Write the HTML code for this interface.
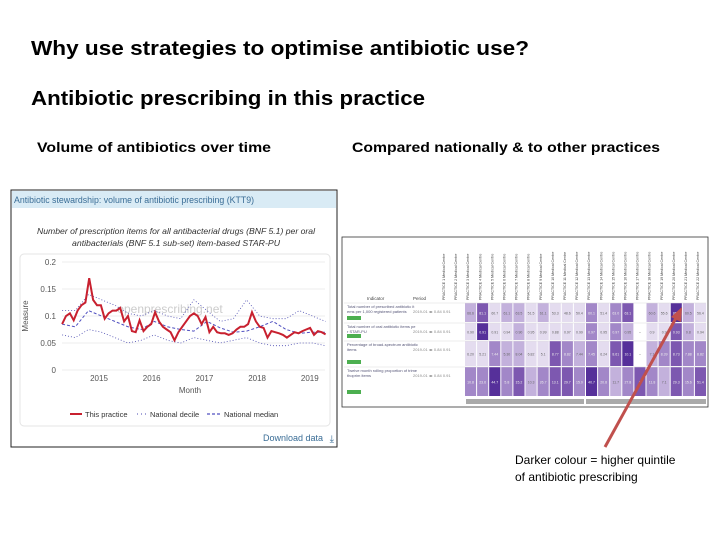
<!DOCTYPE html>
<html><head><meta charset="utf-8"><style>
body{margin:0;background:#fff;}
svg{display:block;font-family:"Liberation Sans",sans-serif;}
</style></head><body>
<svg id="s" width="720" height="540" viewBox="0 0 720 540">
<text x="31" y="55" font-size="20" font-weight="bold" textLength="498" lengthAdjust="spacingAndGlyphs" fill="#000">Why use strategies to optimise antibiotic use?</text>
<text x="31" y="105" font-size="20" font-weight="bold" textLength="394" lengthAdjust="spacingAndGlyphs" fill="#000">Antibiotic prescribing in this practice</text>
<text x="37" y="152" font-size="14" font-weight="bold" textLength="234" lengthAdjust="spacingAndGlyphs">Volume of antibiotics over time</text>
<text x="352" y="152" font-size="14" font-weight="bold" textLength="308" lengthAdjust="spacingAndGlyphs">Compared nationally &amp; to other practices</text>

<g>
<rect x="11" y="190" width="326" height="257" fill="#fff" stroke="#222" stroke-width="1"/>
<rect x="12" y="191" width="324" height="17" fill="#d9ebf5"/>
<text x="14" y="203" font-size="9" fill="#3a6d96" textLength="240" lengthAdjust="spacingAndGlyphs">Antibiotic stewardship: volume of antibiotic prescribing (KTT9)</text>
<text x="176" y="234" font-size="8.5" font-style="italic" text-anchor="middle" fill="#333" textLength="278" lengthAdjust="spacingAndGlyphs">Number of prescription items for all antibacterial drugs (BNF 5.1) per oral</text>
<text x="176" y="246" font-size="8.5" font-style="italic" text-anchor="middle" fill="#333" textLength="208" lengthAdjust="spacingAndGlyphs">antibacterials (BNF 5.1 sub-set) item-based STAR-PU</text>
<rect x="20" y="254" width="310" height="172" rx="4" fill="none" stroke="#e4e4e4"/>
<g id="plot"></g>
<text x="323" y="441" font-size="9" fill="#3a6d96" text-anchor="end">Download data</text>
<text x="334" y="442" font-size="10" fill="#3a6d96" text-anchor="end">⤓</text>
</g>

<g>
<rect x="342" y="237" width="366" height="170" fill="#fff" stroke="#333" stroke-width="0.8"/>
<g id="heat"></g>
</g>

<line x1="605" y1="447" x2="676" y2="318" stroke="#c0504d" stroke-width="3"/>
<polygon points="682,307 671,317 681,322" fill="#c0504d"/>
<text x="515" y="464" font-size="12">Darker colour = higher quintile</text>
<text x="515" y="481" font-size="12">of antibiotic prescribing</text>
</svg>
<script>
const NS="http://www.w3.org/2000/svg";
const yTicks=[0,0.05,0.1,0.15,0.2];
const yTickLabels=["0","0.05","0.1","0.15","0.2"];
const xYears=[2015,2016,2017,2018,2019];
const practiceStart=2014.3;
const practice=[0.085,0.1,0.105,0.092,0.11,0.12,0.125,0.17,0.13,0.12,0.12,0.095,0.105,0.11,0.11,0.115,0.09,0.1,0.072,0.07,0.092,0.072,0.08,0.085,0.107,0.09,0.08,0.075,0.07,0.055,0.07,0.08,0.09,0.1,0.105,0.1,0.085,0.098,0.07,0.08,0.07,0.068,0.068,0.065,0.068,0.075,0.08,0.08,0.085,0.107,0.09,0.08,0.078,0.06,0.072,0.07,0.068,0.065,0.06,0.065,0.07,0.068,0.072,0.075,0.078,0.065,0.072,0.07,0.066];
const qStart=2014.3;
const median=[0.085,0.08,0.11,0.1,0.09,0.08,0.075,0.09,0.08,0.075,0.072,0.09,0.078,0.07,0.072,0.08,0.09,0.075,0.068,0.07,0.07];
const decileHigh=[0.11,0.11,0.14,0.13,0.12,0.105,0.1,0.11,0.1,0.095,0.13,0.11,0.09,0.095,0.13,0.1,0.095,0.095,0.11,0.1,0.09];
const decileLow=[0.065,0.06,0.075,0.07,0.06,0.05,0.055,0.065,0.055,0.05,0.06,0.055,0.05,0.055,0.06,0.05,0.045,0.045,0.05,0.05,0.045];

const X0=62,X1=325,Y0=370,Y1=262;
const xs=t=>99+(t-2015)*52.7;
const ys=v=>Y0-(v/0.2)*(Y0-Y1);
function mk(tag,attrs,parent){const e=document.createElementNS(NS,tag);for(const k in attrs)e.setAttribute(k,attrs[k]);parent.appendChild(e);return e;}
const plot=document.getElementById('plot');
yTicks.forEach((v,i)=>{
 const g=mk('line',{x1:X0,x2:X1,y1:ys(v),y2:ys(v),stroke:'#e6e6e6','stroke-width':0.8},plot);
 
 
 const t=mk('text',{x:X0-6,y:ys(v)+3,'font-size':8,'text-anchor':'end',fill:'#555'},plot);
 t.textContent=yTickLabels[i];
 
 
});
xYears.forEach(yr=>{
 const t=mk('text',{x:xs(yr),y:Y0+11,'font-size':8,'text-anchor':'middle',fill:'#555'},plot);
 t.textContent=yr;
 
 
});
let t=mk('text',{x:190,y:393,'font-size':8,'text-anchor':'middle',fill:'#555'},plot);t.textContent='Month';


t=mk('text',{x:28,y:316,'font-size':8,'text-anchor':'middle',fill:'#555',transform:'rotate(-90 28 316)'},plot);t.textContent='Measure';


t=mk('text',{x:170,y:313,'font-size':12,'text-anchor':'middle',fill:'#ccc'},plot);t.textContent='openprescribing.net';


function pts(arr,start,step){return arr.map((v,i)=>xs(start+i*step).toFixed(1)+','+ys(v).toFixed(1)).join(' ');}
const qstep=(2019.3-qStart)/(median.length-1);
let l=mk('polyline',{points:pts(decileHigh,qStart,qstep),fill:'none',stroke:'#4a4ab0','stroke-width':0.8,'stroke-dasharray':'1 2'},plot);


l=mk('polyline',{points:pts(decileLow,qStart,qstep),fill:'none',stroke:'#4a4ab0','stroke-width':0.8,'stroke-dasharray':'1 2'},plot);


l=mk('polyline',{points:pts(median,qStart,qstep),fill:'none',stroke:'#5050c0','stroke-width':1,'stroke-dasharray':'3 2'},plot);


const pstep=(2019.3-practiceStart)/(practice.length-1);
l=mk('polyline',{points:pts(practice,practiceStart,pstep),fill:'none',stroke:'#c8202f','stroke-width':2},plot);


l=mk('line',{x1:70,x2:82,y1:414,y2:414,stroke:'#c8202f','stroke-width':2},plot);


t=mk('text',{x:85,y:417,'font-size':7.5,fill:'#333'},plot);t.textContent='This practice';


l=mk('line',{x1:137,x2:146,y1:414,y2:414,stroke:'#4a4ab0','stroke-width':1,'stroke-dasharray':'1 3'},plot);


t=mk('text',{x:150,y:417,'font-size':7.5,fill:'#333'},plot);t.textContent='National decile';


l=mk('line',{x1:207,x2:220,y1:414,y2:414,stroke:'#5050c0','stroke-width':1.2,'stroke-dasharray':'3 2'},plot);


t=mk('text',{x:224,y:417,'font-size':7.5,fill:'#333'},plot);t.textContent='National median';



const rowLevels=[
 [2,4,1,2,2,1,2,1,1,1,3,1,3,4,0,2,1,5,2,1],
 [1,5,1,1,2,1,1,1,1,1,3,1,3,2,0,1,1,4,2,1],
 [1,1,3,2,2,1,1,4,3,2,3,1,4,5,0,2,3,4,3,3],
 [3,3,5,3,4,2,3,4,4,3,5,3,2,3,4,3,2,4,3,4]];
const rowValues=[
 ["66.6","81.1","60.7","61.1","63.5","51.5","61.1","53.3","48.6","50.4","60.1","51.4","63.0","63.1","","60.6","55.6","86.4","60.5","56.4"],
 ["0.90","0.91","0.91","0.94","0.90","0.95","0.99","0.88","0.97","0.99","0.97","0.95","0.97","0.95","–","0.9","0.9","0.93","0.8","0.94"],
 ["6.20","5.21","7.44","5.30","8.04","6.82","5.1","8.77","8.82","7.44","7.45","6.24","8.61","10.1","–","7.1","8.39","8.73","7.88","8.82"],
 ["10.8","23.6","44.7","5.8","15.2","10.3","26.7","13.1","29.7","15.0","40.7","20.8","11.7","27.8","5","11.8","7.1","29.3","15.6","51.4"]];
const palette=["#ffffff","#e4dcef","#c3b1dc","#a287c8","#7d58b0","#56309a"];
const rowY=[303,323,341,367,397];
const cx0=465,cw=12.1;
const heat=document.getElementById('heat');
const rowLabels=["Total number of prescribed antibiotic items per 1,000 registered patients","Total number of oral antibiotic items per STAR-PU","Percentage of broad-spectrum antibiotic items","Twelve month rolling proportion of trimethoprim items"];
rowLevels.forEach((row,r)=>{
 row.forEach((lv,c)=>{
  const x=cx0+c*cw,y=rowY[r],h=rowY[r+1]-rowY[r]-1;
  const rc=mk('rect',{x:x,y:y,width:cw-1,height:h,fill:palette[lv]},heat);
  
  
  const tx=mk('text',{x:x+cw/2-0.5,y:y+h/2+2,'font-size':3.5,'text-anchor':'middle',fill:lv>=3?'#eee':'#666'},heat);
  tx.textContent=rowValues[r][c];
  
  
 });
 const lbl=mk('text',{x:347,y:rowY[r]+5,'font-size':4,fill:'#557'},heat);
 lbl.textContent=rowLabels[r].slice(0,40);
 
 
 const lbl2=mk('text',{x:347,y:rowY[r]+10,'font-size':4,fill:'#557'},heat);
 lbl2.textContent=rowLabels[r].slice(40);
 
 
 const bd=mk('rect',{x:347,y:rowY[r+1]-7,width:14,height:4,fill:'#4caf50'},heat);
 
 
 const per=mk('text',{x:413,y:rowY[r]+10,'font-size':4,fill:'#888'},heat);
 per.textContent='2019-01  ◂▸  0.84  0.91';
 
 
 const ln=mk('line',{x1:344,x2:706,y1:rowY[r],y2:rowY[r],stroke:'#ddd','stroke-width':0.5},heat);
 
 
});
for(let c=0;c<22;c++){
 const x=cx0-26+c*cw+6;
 const tx=mk('text',{x:x,y:300,'font-size':3.6,fill:'#444',transform:'rotate(-90 '+x+' 300)'},heat);
 tx.textContent='PRACTICE '+(c+1)+' Medical Centre';
 
 
}
let hd=mk('text',{x:367,y:300,'font-size':4.5,fill:'#444'},heat);hd.textContent='Indicator';


hd=mk('text',{x:413,y:300,'font-size':4.5,fill:'#444'},heat);hd.textContent='Period';


let sb=mk('rect',{x:466,y:399,width:118,height:5,fill:'#aaa'},heat);


sb=mk('rect',{x:586,y:399,width:120,height:5,fill:'#aaa'},heat);


</script>
</body></html>
